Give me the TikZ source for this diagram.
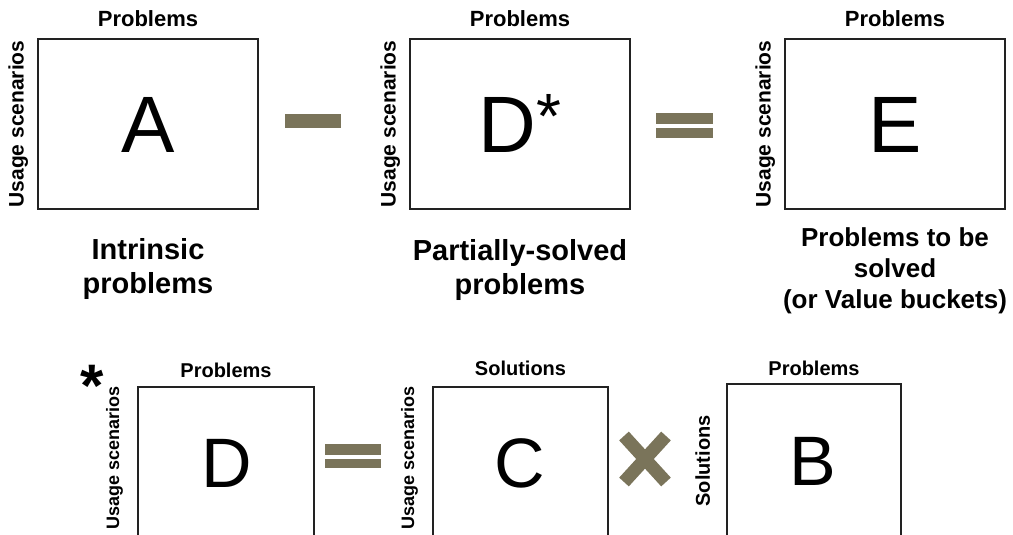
\documentclass[tikz,border=0pt]{standalone}
\usepackage{fontspec}
\setmainfont{Liberation Sans}
\usetikzlibrary{positioning}
\definecolor{opgreen}{RGB}{122,116,90}
\definecolor{boxgray}{RGB}{34,34,34}
\tikzset{
  grid box/.style={draw=boxgray, line width=1.6pt, inner sep=0pt, minimum width=#1},
  axis label/.style={font=\bfseries\fontsize{20}{20}\selectfont, inner sep=0pt},
  side label/.style={axis label, rotate=90, anchor=south},
  big letter/.style={font=\fontsize{80}{80}\selectfont, inner sep=0pt, anchor=base},
  caption/.style={font=\bfseries\fontsize{29}{34}\selectfont, align=center, inner sep=0pt},
}
\begin{document}
\begin{tikzpicture}[x=1pt, y=-1pt]
\path[use as bounding box, clip] (0,0) rectangle (1013,535);

% top row: A - D* = E
\node[grid box=220pt, minimum height=170pt] (boxA) at (148,124) {};
\node[grid box=220pt, minimum height=170pt] (boxDs) at (520,124) {};
\node[grid box=220pt, minimum height=170pt] (boxE) at (895,124) {};
\foreach \b in {boxA, boxDs, boxE} {
  \node[axis label, font=\bfseries\fontsize{22}{22}\selectfont, anchor=base] (\b-prob) at ([yshift=12pt]\b.north) {Problems};
  \node[side label, font=\bfseries\fontsize{21}{21}\selectfont] (\b-use) at ([xshift=-9pt]\b.west) {Usage scenarios};
}
\node[big letter] (letA) at (148,153) {A};
\node[big letter] (letDs) at (520,153) {D\raisebox{14pt}{\fontsize{64}{64}\selectfont *}};
\node[big letter] (letE) at (895,153) {E};

\node[caption, below=28pt of boxA] (capA) {Intrinsic\\problems};
\node[caption, below=29pt of boxDs] (capDs) {Partially-solved\\problems};
\node[caption, font=\bfseries\fontsize{26}{31}\selectfont, below=18pt of boxE] (capE) {Problems to be\\solved\\(or Value buckets)};

\fill[opgreen] (285,114) rectangle (341,128);
\fill[opgreen] (656,113) rectangle (713,124);
\fill[opgreen] (656,128) rectangle (713,138);

% bottom row: D = C x B
\node[font=\bfseries\fontsize{60}{60}\selectfont, inner sep=0pt, anchor=base] (star) at (92,406) {*};
\node[grid box=176pt, minimum height=200pt, anchor=north] (boxD) at (226,386) {};
\node[grid box=175pt, minimum height=200pt, anchor=north] (boxC) at (520.5,386) {};
\node[grid box=174pt, minimum height=200pt, anchor=north] (boxB) at (814,383) {};

\node[axis label, anchor=base] (boxD-prob) at ([yshift=9pt]boxD.north) {Problems};
\node[axis label, anchor=base] (boxC-sol) at ([yshift=11pt]boxC.north) {Solutions};
\node[axis label, anchor=base] (boxB-prob) at ([yshift=8pt]boxB.north) {Problems};
\node[side label, font=\bfseries\fontsize{18}{18}\selectfont, anchor=south east] (boxD-use) at ([xshift=-14pt]boxD.north west) {Usage scenarios};
\node[side label, font=\bfseries\fontsize{18}{18}\selectfont, anchor=south east] (boxC-use) at ([xshift=-14pt]boxC.north west) {Usage scenarios};

\node[big letter, font=\fontsize{70}{70}\selectfont] (letD) at (227,487) {D};
\node[big letter, font=\fontsize{70}{70}\selectfont] (letC) at (520,487) {C};
\node[big letter, font=\fontsize{70}{70}\selectfont] (letB) at (813,485) {B};
\coordinate (bsol) at (boxB.west |- letB);
\node[side label] (boxB-sol) at ([xshift=-16pt]bsol) {Solutions};

\fill[opgreen] (325,444) rectangle (381,455);
\fill[opgreen] (325,459) rectangle (381,468);
\draw[opgreen, line width=13pt] (624,436) -- (666,482) (624,482) -- (666,436);
\end{tikzpicture}
\end{document}
